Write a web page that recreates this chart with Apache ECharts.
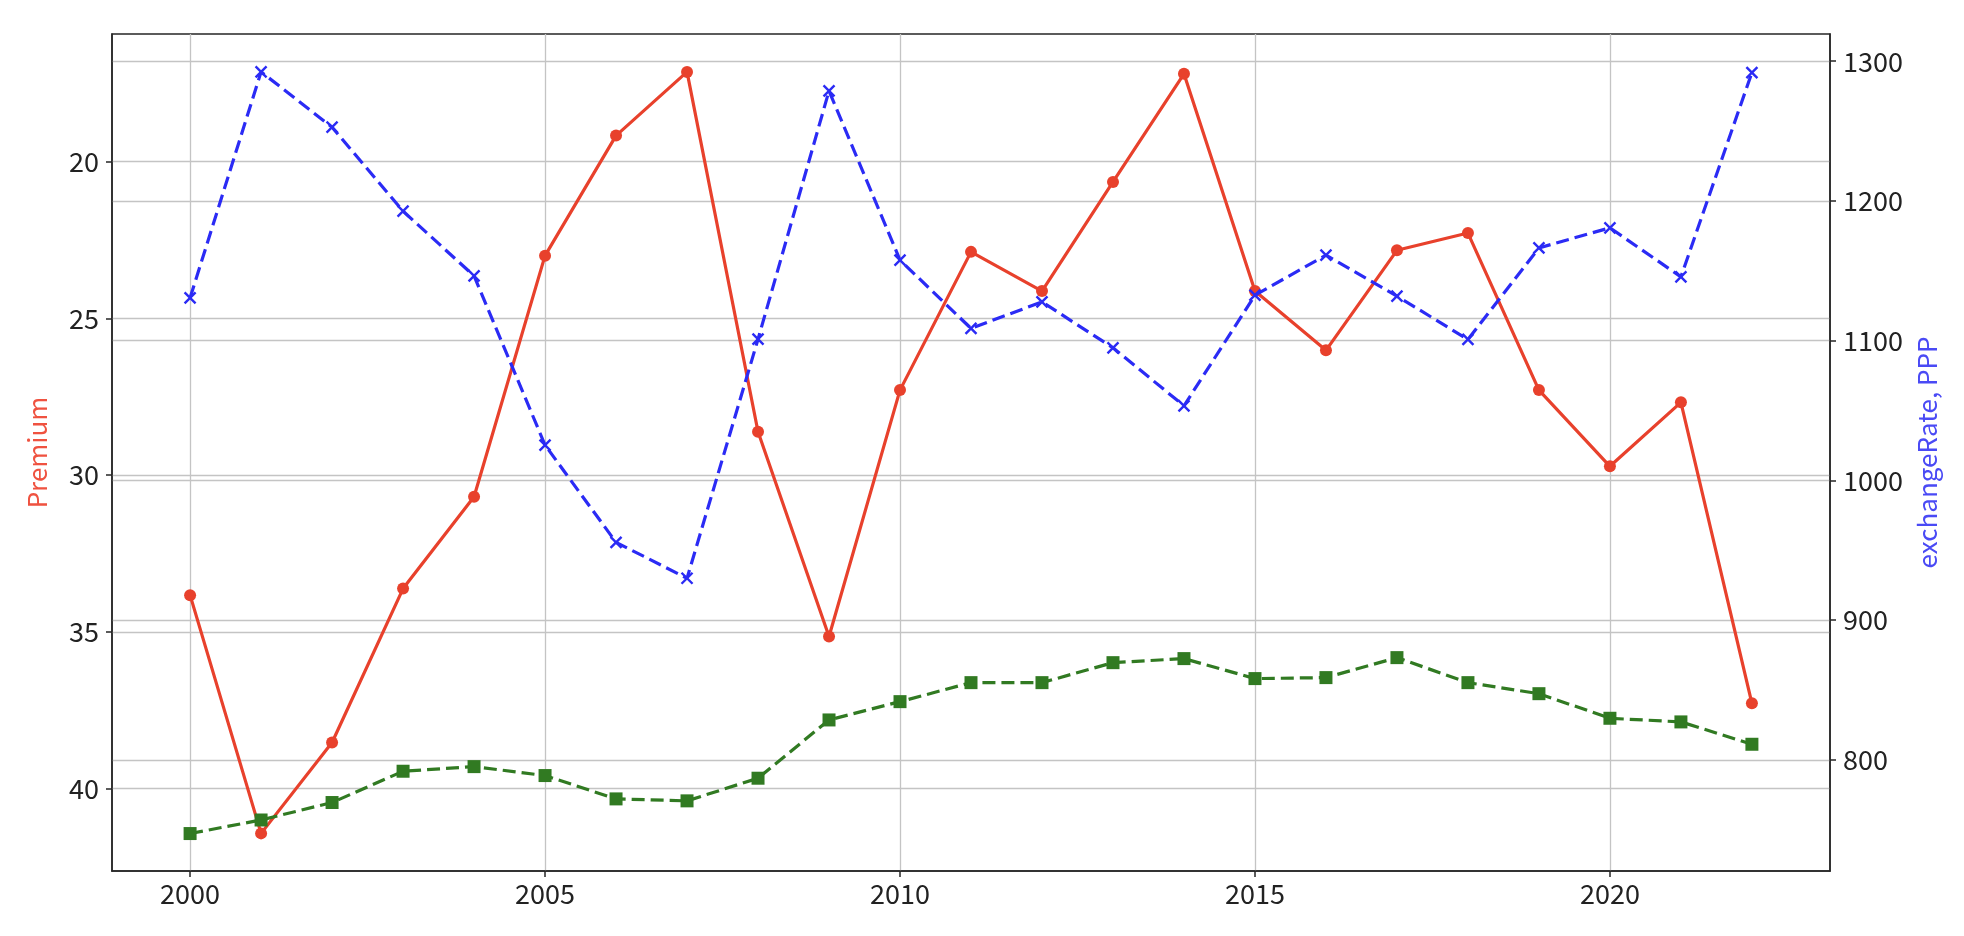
<!DOCTYPE html>
<html>
<head>
<meta charset="utf-8">
<script src="https://cdn.jsdelivr.net/npm/echarts@6/dist/echarts.min.js"></script>
<style>
html,body{margin:0;padding:0;background:#fff;}
#chart{width:1964px;height:936px;}
</style>
</head>
<body>
<div id="chart"></div>
<script>
const years = [2000,2001,2002,2003,2004,2005,2006,2007,2008,2009,2010,2011,2012,2013,2014,2015,2016,2017,2018,2019,2020,2021,2022];
const premium = [33.83,41.43,38.53,33.62,30.69,23.0,19.17,17.14,28.62,35.15,27.29,22.88,24.13,20.65,17.2,24.13,26.02,22.83,22.28,27.29,29.72,27.68,37.28];
const exchangeRate = [1130.7,1292.4,1252.8,1192.7,1146.4,1025.3,955.7,930.0,1101.1,1278.8,1157.7,1108.8,1127.8,1094.9,1053.4,1132.6,1161.2,1131.9,1100.9,1166.4,1180.8,1145.7,1291.9];
const ppp = [747.3,757.0,769.5,791.9,795.2,788.8,772.1,770.7,786.9,828.6,841.7,855.3,855.3,869.6,872.5,858.2,858.9,873.2,855.3,847.4,829.8,827.2,811.2];
const xTicks = [2000,2005,2010,2015,2020];
const leftTicks = [20,25,30,35,40];
const rightTicks = [800,900,1000,1100,1200,1300];

const FONT = '"Noto Sans CJK KR", "Noto Sans", sans-serif';
const pair = (arr) => years.map((y, i) => [y, arr[i]]);

const chart = echarts.init(document.getElementById('chart'), null, {renderer: 'canvas'});
const gridLine = {show: true, lineStyle: {color: '#c4c4c4', width: 1.3}};
const axisLine = {show: true, lineStyle: {color: '#262626', width: 1.5}};
const axisTick = (vals) => ({show: true, length: 6, inside: false, customValues: vals, lineStyle: {color: '#262626', width: 1.5}});
const lbl = (vals, margin) => ({customValues: vals, color: '#222', fontSize: 27, fontFamily: FONT, margin: margin,
                                formatter: (v) => String(v)});

chart.setOption({
  animation: false,
  backgroundColor: '#fff',
  grid: {left: 112, right: 134, top: 34, bottom: 65, containLabel: false, outerBoundsMode: 'none',
         show: true, borderColor: '#262626', borderWidth: 1.5, backgroundColor: 'transparent'},
  xAxis: {
    type: 'value', min: 1998.9, max: 2023.1,
    axisLine: axisLine, axisTick: axisTick(xTicks), axisLabel: lbl(xTicks, 9),
    splitLine: gridLine
  },
  yAxis: [
    {
      type: 'value', inverse: true, min: 15.93, max: 42.63, position: 'left',
      name: 'Premium', nameLocation: 'middle', nameGap: 62,
      nameTextStyle: {color: '#ef5240', fontSize: 26, fontFamily: FONT},
      axisLine: axisLine, axisTick: axisTick(leftTicks), axisLabel: lbl(leftTicks, 13),
      splitLine: gridLine
    },
    {
      type: 'value', min: 720.5, max: 1319.5, position: 'right',
      name: 'exchangeRate, PPP', nameLocation: 'middle', nameGap: 80,
      nameTextStyle: {color: '#4a4af5', fontSize: 26, fontFamily: FONT},
      axisLine: axisLine, axisTick: axisTick(rightTicks), axisLabel: lbl(rightTicks, 13),
      splitLine: gridLine
    }
  ],
  series: [
    {
      name: 'Premium', type: 'line', yAxisIndex: 0, data: pair(premium), z: 2,
      symbol: 'circle', symbolSize: 12,
      lineStyle: {color: '#e8412c', width: 3.2},
      itemStyle: {color: '#e8412c'}
    },
    {
      name: 'exchangeRate', type: 'line', yAxisIndex: 1, data: pair(exchangeRate), z: 3,
      symbol: 'path://M0,0L10,10M10,0L0,10', symbolSize: 11,
      lineStyle: {color: '#2b2bf5', width: 3.2, type: [13, 6]},
      itemStyle: {color: 'transparent', borderColor: '#2b2bf5', borderWidth: 2.4}
    },
    {
      name: 'PPP', type: 'line', yAxisIndex: 1, data: pair(ppp), z: 3,
      symbol: 'rect', symbolSize: 13,
      lineStyle: {color: '#317a22', width: 3.2, type: [13, 6]},
      itemStyle: {color: '#317a22'}
    }
  ]
});
</script>
</body>
</html>
